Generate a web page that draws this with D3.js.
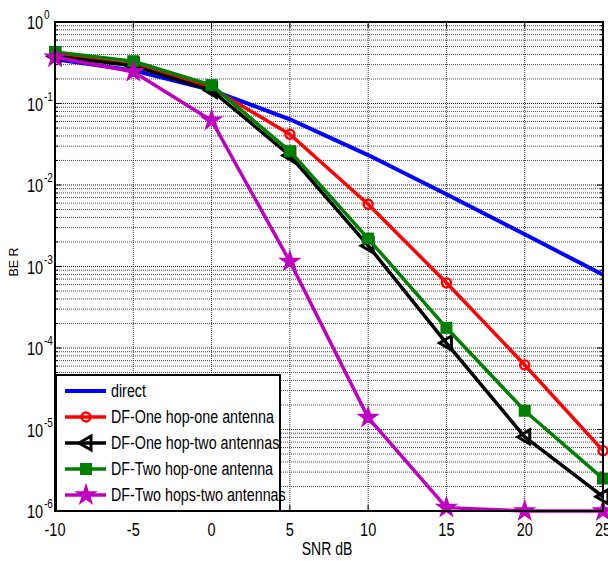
<!DOCTYPE html>
<html><head><meta charset="utf-8">
<script src="https://cdn.jsdelivr.net/npm/d3@7"></script>
<style>body{margin:0;background:#fff}text{font-family:"Liberation Sans",Arial,sans-serif}</style>
</head><body><svg id="c" width="608" height="561"></svg>
<script>
const snr = [-10, -5, 0, 5, 10, 15, 20, 25];
const direct = [0.35, 0.255, 0.146, 0.064, 0.0233, 0.0077, 0.00249, 0.00079];
const oneHopOne = [0.40, 0.30, 0.155, 0.042, 0.0058, 6.3e-4, 6.2e-5, 5.5e-6];
const oneHopTwo = [0.38, 0.29, 0.145, 0.023, 0.0018, 1.15e-4, 8.1e-6, 1.5e-6];
const twoHopOne = [0.43, 0.33, 0.168, 0.026, 0.0022, 1.77e-4, 1.7e-5, 2.5e-6];
const twoHopsTwo = [0.37, 0.245, 0.062, 0.00115, 1.4e-5, 1.1e-6, 1.0e-6, 1.0e-6];
const xTicks = [-10, -5, 0, 5, 10, 15, 20, 25];
const yExps = [0, -1, -2, -3, -4, -5, -6];
const seriesNames = ["direct", "DF-One hop-one antenna", "DF-One hop-two antennas", "DF-Two hop-one antenna", "DF-Two hops-two antennas"];

const series = [
  {name: seriesNames[0], v: direct, color: "#0000ff", marker: null, w: 4},
  {name: seriesNames[1], v: oneHopOne, color: "#ff0000", marker: "circle", w: 3.5},
  {name: seriesNames[2], v: oneHopTwo, color: "#000000", marker: "triangle", w: 3.5},
  {name: seriesNames[3], v: twoHopOne, color: "#007f00", marker: "square", w: 3.5},
  {name: seriesNames[4], v: twoHopsTwo, color: "#bf00bf", marker: "star", w: 3.5}
];

const L = 55, R = 603, T = 22, B = 511;
const svg = d3.select("#c");
const x = d3.scaleLinear().domain([-10, 25]).range([L, R]);
const y = d3.scaleLog().domain([1e-6, 1]).range([B, T]);

// grid
const g = svg.append("g");
const minor = [];
for (let e = -6; e < 0; e++) for (let k = 2; k <= 9; k++) minor.push(k * Math.pow(10, e));
g.selectAll(".hm").data(minor).enter().append("line")
  .attr("x1", L).attr("x2", R).attr("y1", d => y(d)).attr("y2", d => y(d))
  .attr("stroke", "#444").attr("stroke-width", 1).attr("stroke-dasharray", "1,1");
g.selectAll(".hM").data(yExps.map(e => Math.pow(10, e))).enter().append("line")
  .attr("x1", L).attr("x2", R).attr("y1", d => y(d)).attr("y2", d => y(d))
  .attr("stroke", "#222").attr("stroke-width", 1).attr("stroke-dasharray", "1,1");
g.selectAll(".v").data(xTicks).enter().append("line")
  .attr("x1", d => x(d)).attr("x2", d => x(d)).attr("y1", T).attr("y2", B)
  .attr("stroke", "#333").attr("stroke-width", 1).attr("stroke-dasharray", "1,1");

// ticks
const tk = svg.append("g").attr("stroke", "#000").attr("stroke-width", 1);
minor.forEach(d => {
  tk.append("line").attr("x1", L).attr("x2", L + 3).attr("y1", y(d)).attr("y2", y(d));
  tk.append("line").attr("x1", R).attr("x2", R - 3).attr("y1", y(d)).attr("y2", y(d));
});
yExps.forEach(e => {
  const d = Math.pow(10, e);
  tk.append("line").attr("x1", L).attr("x2", L + 6).attr("y1", y(d)).attr("y2", y(d));
  tk.append("line").attr("x1", R).attr("x2", R - 6).attr("y1", y(d)).attr("y2", y(d));
});
xTicks.forEach(d => {
  tk.append("line").attr("x1", x(d)).attr("x2", x(d)).attr("y1", B).attr("y2", B - 6);
  tk.append("line").attr("x1", x(d)).attr("x2", x(d)).attr("y1", T).attr("y2", T + 6);
});

// lines
const line = d3.line().x((d, i) => x(snr[i])).y(d => y(d));
const starPath = d3.symbol().type(d3.symbolStar).size(170)();
function marker(sel, type, color, cx, cy) {
  if (type === "circle") sel.append("circle").attr("cx", cx).attr("cy", cy).attr("r", 4.5)
    .attr("fill", "none").attr("stroke", color).attr("stroke-width", 2.4);
  else if (type === "square") sel.append("rect").attr("x", cx - 6).attr("y", cy - 6).attr("width", 12).attr("height", 12)
    .attr("fill", color);
  else if (type === "triangle") sel.append("path")
    .attr("d", `M${cx - 7},${cy} L${cx + 5},${cy - 7} L${cx + 5},${cy + 7} Z`)
    .attr("fill", "none").attr("stroke", color).attr("stroke-width", 3).attr("stroke-linejoin", "miter");
  else if (type === "star") sel.append("path").attr("d", starPath)
    .attr("transform", `translate(${cx},${cy})`).attr("fill", color);
}
const plot = svg.append("g");
series.forEach(s => {
  plot.append("path").datum(s.v).attr("d", line).attr("fill", "none")
    .attr("stroke", s.color).attr("stroke-width", s.w).attr("stroke-linejoin", "round");
  if (s.marker) s.v.forEach((d, i) => marker(plot, s.marker, s.color, x(snr[i]), y(d)));
});

// frame
svg.append("rect").attr("x", L).attr("y", T).attr("width", R - L).attr("height", B - T)
  .attr("fill", "none").attr("stroke", "#000").attr("stroke-width", 2);

// tick labels
function stretched(parent, tx, ty, txt, size, anchor) {
  return parent.append("text").attr("transform", `translate(${tx},${ty}) scale(1,1.25)`)
    .attr("font-size", size).attr("text-anchor", anchor || "start").text(txt);
}
xTicks.forEach(d => stretched(svg, x(d), 536, d, 14.5, "middle"));
yExps.forEach(e => {
  const yy = y(Math.pow(10, e));
  stretched(svg, 27, yy + 7, "10", 14.5, "start");
  stretched(svg, 44, yy - 3, e, 10, "start");
});
stretched(svg, 327, 555, "SNR dB", 14, "middle");
svg.append("text").attr("transform", "translate(18,262) rotate(-90)").attr("text-anchor", "middle")
  .attr("font-size", 12.5).text("BE R");

// legend
const lg = svg.append("g");
lg.append("rect").attr("x", 56).attr("y", 375).attr("width", 224).attr("height", 136)
  .attr("fill", "#fff").attr("stroke", "#000").attr("stroke-width", 2);
series.forEach((s, i) => {
  const ly = 391 + i * 26;
  lg.append("line").attr("x1", 65).attr("x2", 106).attr("y1", ly).attr("y2", ly)
    .attr("stroke", s.color).attr("stroke-width", s.w);
  if (s.marker) marker(lg, s.marker, s.color, 86, ly);
  stretched(lg, 111, ly + 6, s.name, 14.3, "start");
});
</script></body></html>
